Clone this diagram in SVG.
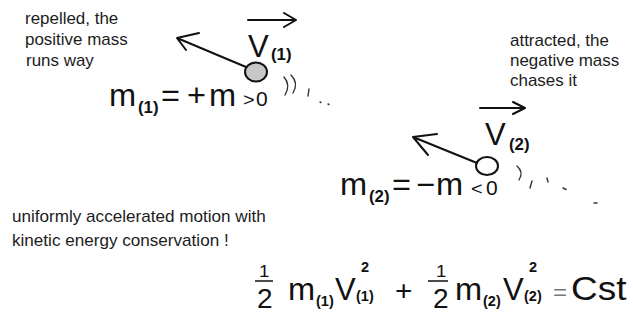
<svg xmlns="http://www.w3.org/2000/svg" width="633" height="320" viewBox="0 0 633 320">
<style>
.t{font-family:"Liberation Sans",Arial,Helvetica,sans-serif;fill:#111;}
.c{font-size:16px;fill:#1c1c1c;}
.big{font-size:31px;}
.sub{font-size:16px;font-weight:bold;}
.es{font-size:14.5px;font-weight:bold;}
.ln{stroke:#111;stroke-width:2;fill:none;stroke-linecap:round;stroke-linejoin:round;}
.sq{stroke:#333;stroke-width:1.4;fill:none;stroke-linecap:round;}
</style>
<rect width="633" height="320" fill="#fff"/>

<g id="caption-repelled" class="t c">
<text transform="translate(25,24) scale(1.06,1)">repelled, the</text>
<text transform="translate(25,45) scale(1.06,1)">positive mass</text>
<text transform="translate(26,66) scale(1.06,1)">runs way</text>
</g>

<g id="caption-attracted" class="t c">
<text transform="translate(510,46) scale(1.06,1)">attracted, the</text>
<text transform="translate(510,66) scale(1.06,1)">negative mass</text>
<text transform="translate(510,86) scale(1.06,1)">chases it</text>
</g>

<g id="caption-motion" class="t c">
<text transform="translate(12,222) scale(1.07,1)">uniformly accelerated motion with</text>
<text transform="translate(12,246) scale(1.07,1)">kinetic energy conservation !</text>
</g>

<g id="mass1">
<ellipse cx="256" cy="72" rx="11" ry="9.5" fill="#c8c8c8" stroke="#111" stroke-width="2"/>
<g class="t">
<text class="big" transform="translate(248,57)">V</text>
<text class="sub" transform="translate(271,60) scale(1.05,1)">(1)</text>
<text class="big" transform="translate(109,106) scale(1.05,1)">m</text>
<text class="sub" transform="translate(138,113) scale(1.05,1)">(1)</text>
<text class="big" transform="translate(161,106) scale(1.05,1)">=</text>
<text class="big" transform="translate(187,106) scale(1.05,1)">+</text>
<text class="big" transform="translate(209,106) scale(1.05,1)">m</text>
<text transform="translate(243,106) scale(1.05,1)" font-size="19">&gt;</text>
<text transform="translate(256,106)" font-size="21">0</text>
</g>
<path class="sq" d="M284,77 Q291,85 285,95 M291,75 Q299,83 293,93 M309,89 L308,96 M320,102 l1,0.5 M328,104 l1,0.5"/>
</g>

<g id="mass2">
<ellipse cx="487" cy="166" rx="11" ry="9" fill="#fff" stroke="#111" stroke-width="2"/>
<g class="t">
<text class="big" transform="translate(485,145)">V</text>
<text class="sub" transform="translate(509,150) scale(1.05,1)">(2)</text>
<text class="big" transform="translate(340,195) scale(1.05,1)">m</text>
<text class="sub" transform="translate(369,202) scale(1.05,1)">(2)</text>
<text class="big" transform="translate(392,195) scale(1.05,1)">=</text>
<text class="big" transform="translate(416,195) scale(1.05,1)">−</text>
<text class="big" transform="translate(436,195) scale(1.05,1)">m</text>
<text transform="translate(471,195) scale(1.05,1)" font-size="19">&lt;</text>
<text transform="translate(486,195)" font-size="21">0</text>
</g>
<path class="sq" d="M517,166 Q524,172 519,180 M532,181 L530,188 M547,178 L548,182 M563,188 l3,1.5 M594,203 l3,0"/>
</g>

<g id="connectors">
<path class="ln" d="M248,20 L296,20 M284,13 L296,20 L284,27"/>
<path class="ln" d="M246,67 L177,38 M199,33 L177,38 L186,50"/>
<path class="ln" d="M480,108 L525,108 M513,102 L525,108 L513,114"/>
<path class="ln" d="M477,163 L413,137 M437,134 L413,137 L428,155"/>
</g>

<g id="equation" class="t">
<text transform="translate(259,277) scale(1.1,1)" font-size="17">1</text>
<line x1="255" y1="281" x2="273" y2="281" stroke="#111" stroke-width="1.5"/>
<text transform="translate(257,308)" font-size="28">2</text>
<text class="big" transform="translate(288,300) scale(1.05,1)">m</text>
<text class="es" transform="translate(316,306)">(1)</text>
<text class="big" transform="translate(335,300)">V</text>
<text class="es" transform="translate(356,301)">(1)</text>
<text class="es" transform="translate(361,272)">2</text>
<text transform="translate(395,300) scale(1.1,1)" font-size="27">+</text>
<text transform="translate(436,277) scale(1.1,1)" font-size="17">1</text>
<line x1="428" y1="281" x2="448" y2="281" stroke="#111" stroke-width="1.5"/>
<text transform="translate(433,308)" font-size="28">2</text>
<text class="big" transform="translate(455,300) scale(1.05,1)">m</text>
<text class="es" transform="translate(483,306)">(2)</text>
<text class="big" transform="translate(503,300)">V</text>
<text class="es" transform="translate(524,301)">(2)</text>
<text class="es" transform="translate(529,272)">2</text>
<text transform="translate(553,300) scale(1.1,1)" font-size="22" style="fill:#777">=</text>
<text transform="translate(571,300) scale(1.12,1)" font-size="33">Cst</text>
</g>
</svg>
